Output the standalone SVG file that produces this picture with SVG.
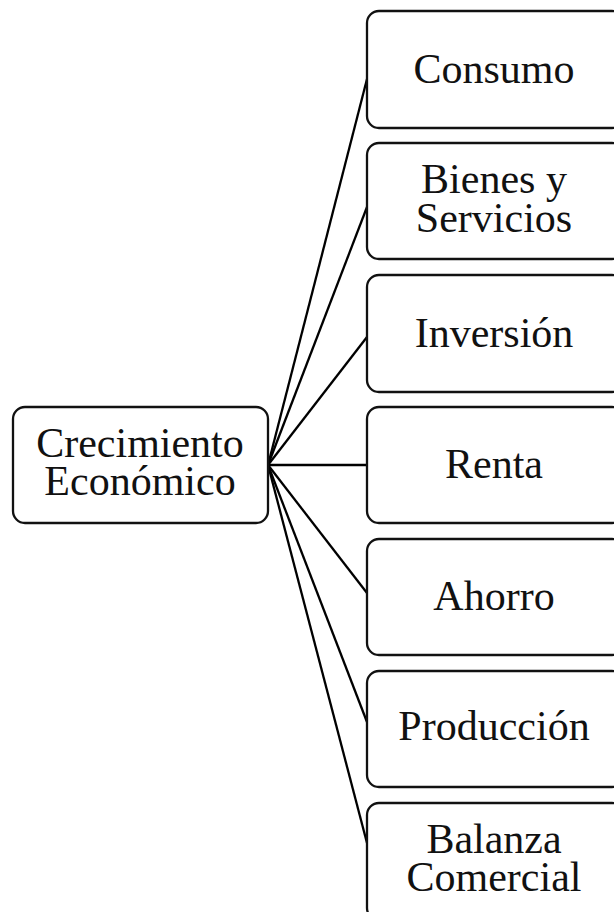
<svg xmlns="http://www.w3.org/2000/svg" width="614" height="912" viewBox="0 0 614 912">
<style>
.box{fill:#fff;stroke:#111;stroke-width:2.3}
.lbl{font-family:"Liberation Serif","Times New Roman",serif;font-size:42px;fill:#111;text-anchor:middle}
.con line{stroke:#000;stroke-width:2.3}
</style>
<rect width="614" height="912" fill="#fff"/>
<g class="con" id="connectors">
<line x1="268" y1="465" x2="367" y2="79"/>
<line x1="268" y1="465" x2="367" y2="207"/>
<line x1="268" y1="465" x2="367" y2="337"/>
<line x1="268" y1="465" x2="367" y2="465"/>
<line x1="268" y1="465" x2="367" y2="593"/>
<line x1="268" y1="465" x2="367" y2="722"/>
<line x1="268" y1="465" x2="367" y2="843"/>
</g>
<g id="crecimiento"><rect class="box" x="13" y="407" width="255" height="116" rx="12"/><text class="lbl" x="140" y="457">Crecimiento</text><text class="lbl" x="140" y="495">Económico</text></g>
<g id="consumo"><rect class="box" x="367" y="11" width="257" height="117" rx="12"/><text class="lbl" x="494" y="83">Consumo</text></g>
<g id="bienes"><rect class="box" x="367" y="143" width="257" height="116" rx="12"/><text class="lbl" x="494" y="193">Bienes y</text><text class="lbl" x="494" y="232">Servicios</text></g>
<g id="inversion"><rect class="box" x="367" y="275" width="257" height="117" rx="12"/><text class="lbl" x="494" y="347">Inversión</text></g>
<g id="renta"><rect class="box" x="367" y="407" width="257" height="116" rx="12"/><text class="lbl" x="494" y="478">Renta</text></g>
<g id="ahorro"><rect class="box" x="367" y="539" width="257" height="116" rx="12"/><text class="lbl" x="494" y="610">Ahorro</text></g>
<g id="produccion"><rect class="box" x="367" y="671" width="257" height="116" rx="12"/><text class="lbl" x="494" y="740">Producción</text></g>
<g id="balanza"><rect class="box" x="367" y="803" width="257" height="117" rx="12"/><text class="lbl" x="494" y="853">Balanza</text><text class="lbl" x="494" y="891">Comercial</text></g>
</svg>
